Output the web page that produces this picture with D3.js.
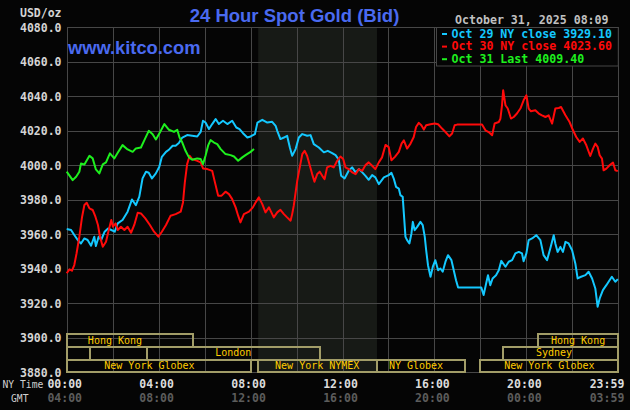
<!DOCTYPE html>
<html lang="en">
<head>
  <meta charset="UTF-8" />
  <title>24 Hour Spot Gold</title>
  <script src="https://d3js.org/d3.v7.min.js"></script>
  <style>
    body {
      margin: 0;
      padding: 0;
      background-color: #050505;
    }
    svg {
      display: block;
      background-color: #050505;
    }
    .mono {
      font-family: "DejaVu Sans Mono", monospace;
    }
    .grid-line {
      stroke: #474747;
      stroke-width: 1px;
      shape-rendering: crispEdges;
    }
    .session-box {
      fill: none;
      stroke: #a29d68;
      stroke-width: 2px;
      shape-rendering: crispEdges;
    }
    .session-label {
      fill: #ffcc00;
      font-size: 10px;
    }
    .price-line {
      fill: none;
      stroke-width: 2px;
      stroke-linejoin: round;
    }
  </style>
</head>
<body>
  <svg id="chart" width="630" height="410"></svg>

  <script>
    // prices: [hour of NY day, USD/oz]
    const oct29 = [[0.0,3963.1],[0.19,3962.5],[0.33,3959.6],[0.48,3956.7],[0.62,3954.7],[0.77,3957.6],[0.91,3956.7],[1.06,3953.4],[1.20,3958.6],[1.27,3953.2],[1.39,3958.6],[1.50,3956.7],[1.65,3961.5],[1.80,3963.4],[1.94,3962.5],[2.09,3961.5],[2.22,3966.3],[2.43,3968.3],[2.65,3973.1],[2.84,3980.2],[3.01,3976.9],[3.16,3981.8],[3.30,3992.4],[3.45,3996.3],[3.57,3995.7],[3.71,3992.4],[3.88,3995.3],[4.03,3999.2],[4.14,4004.9],[4.32,4007.8],[4.46,4009.2],[4.61,4011.3],[4.74,4011.3],[4.88,4012.9],[5.03,4016.1],[5.24,4017.5],[5.46,4017.1],[5.68,4016.7],[5.83,4019.4],[5.93,4025.8],[6.04,4024.8],[6.19,4021.0],[6.33,4023.9],[6.48,4026.8],[6.62,4023.9],[6.80,4025.8],[6.99,4023.9],[7.20,4025.8],[7.38,4021.9],[7.52,4021.0],[7.67,4018.6],[7.86,4016.1],[8.0,4016.7],[8.19,4018.1],[8.30,4024.8],[8.51,4026.4],[8.73,4024.8],[8.94,4025.2],[9.09,4022.9],[9.16,4020.0],[9.30,4015.2],[9.45,4016.1],[9.59,4017.1],[9.71,4010.3],[9.81,4005.5],[9.96,4009.4],[10.10,4016.1],[10.25,4018.1],[10.46,4017.1],[10.61,4017.5],[10.75,4012.3],[10.97,4010.3],[11.19,4007.5],[11.36,4008.4],[11.55,4007.1],[11.70,4005.9],[11.84,4003.2],[11.94,3993.9],[12.09,3992.4],[12.27,3996.8],[12.42,3998.8],[12.57,3995.9],[12.71,3997.8],[12.86,3995.9],[13.0,3993.9],[13.14,3991.6],[13.29,3994.3],[13.43,3993.0],[13.58,3989.1],[13.80,3993.0],[14.01,3994.3],[14.13,3995.6],[14.23,3992.3],[14.33,3987.5],[14.45,3986.5],[14.52,3982.7],[14.62,3981.7],[14.67,3972.0],[14.74,3958.5],[14.81,3956.6],[14.91,3954.7],[15.0,3960.5],[15.06,3967.2],[15.14,3962.4],[15.25,3964.3],[15.39,3967.2],[15.49,3965.3],[15.58,3958.5],[15.64,3950.8],[15.72,3942.1],[15.83,3935.4],[15.93,3941.2],[16.04,3945.0],[16.16,3939.2],[16.26,3940.2],[16.36,3938.3],[16.48,3944.1],[16.59,3947.9],[16.74,3945.0],[16.84,3939.2],[16.94,3933.4],[17.03,3929.1],[18.04,3929.1],[18.14,3924.8],[18.25,3931.5],[18.33,3936.3],[18.43,3930.5],[18.53,3934.4],[18.68,3936.3],[18.80,3939.2],[18.91,3944.6],[19.09,3941.2],[19.23,3944.1],[19.38,3945.0],[19.52,3948.9],[19.67,3949.8],[19.81,3948.9],[19.88,3944.4],[20.0,3948.9],[20.10,3956.6],[20.25,3957.6],[20.43,3959.5],[20.61,3956.6],[20.75,3947.9],[20.90,3945.0],[21.04,3951.8],[21.19,3959.5],[21.26,3954.7],[21.36,3949.8],[21.48,3952.7],[21.59,3949.8],[21.70,3955.6],[21.84,3954.7],[21.99,3950.8],[22.13,3943.1],[22.23,3934.4],[22.38,3935.4],[22.57,3936.3],[22.71,3938.3],[22.86,3934.4],[23.0,3928.6],[23.10,3918.0],[23.19,3922.8],[23.33,3927.6],[23.48,3930.5],[23.62,3933.4],[23.72,3935.4],[23.87,3932.5],[23.98,3934.0]];

    const oct30 = [[0.0,3937.4],[0.12,3939.7],[0.23,3938.9],[0.33,3942.2],[0.43,3949.0],[0.55,3958.6],[0.67,3970.2],[0.77,3977.0],[0.87,3978.3],[0.99,3975.0],[1.13,3974.1],[1.25,3970.2],[1.36,3965.4],[1.45,3958.6],[1.57,3952.8],[1.71,3955.7],[1.83,3962.5],[1.94,3968.3],[2.01,3964.4],[2.13,3966.3],[2.22,3962.5],[2.36,3964.4],[2.51,3962.5],[2.65,3964.4],[2.80,3960.9],[2.94,3965.4],[3.09,3972.5],[3.23,3972.1],[3.42,3969.2],[3.62,3965.4],[3.80,3961.5],[3.99,3958.6],[4.14,3961.5],[4.32,3965.4],[4.52,3970.8],[4.74,3971.7],[4.96,3973.1],[5.06,3978.5],[5.14,3990.1],[5.24,4000.7],[5.35,4005.5],[5.46,4003.6],[5.68,4002.6],[5.83,4001.7],[5.93,3998.2],[6.12,3997.8],[6.33,3996.8],[6.45,3990.1],[6.59,3982.4],[6.74,3982.4],[6.91,3984.7],[7.06,3983.3],[7.20,3980.4],[7.35,3975.6],[7.46,3970.8],[7.56,3966.9],[7.71,3971.7],[7.93,3973.1],[8.10,3975.6],[8.22,3978.5],[8.36,3981.4],[8.51,3977.5],[8.65,3972.7],[8.80,3975.6],[9.01,3969.8],[9.16,3972.7],[9.30,3974.2],[9.45,3971.7],[9.59,3969.8],[9.74,3967.9],[9.81,3971.7],[9.88,3976.6],[9.96,3984.3],[10.03,3991.0],[10.14,3998.8],[10.25,4006.5],[10.35,4008.4],[10.46,4005.5],[10.58,3999.7],[10.68,3994.9],[10.78,3990.5],[10.90,3994.9],[11.01,3996.3],[11.12,3993.9],[11.22,3992.0],[11.33,3998.8],[11.48,3999.7],[11.62,3998.8],[11.77,4002.6],[11.91,4005.1],[12.03,4003.6],[12.13,3998.8],[12.27,3997.8],[12.42,3995.9],[12.57,3994.9],[12.71,3997.8],[12.86,3996.8],[13.0,4000.1],[13.14,4001.7],[13.29,3999.7],[13.43,3997.8],[13.58,4001.7],[13.72,4004.6],[13.87,4011.8],[14.01,4010.5],[14.13,4002.9],[14.28,4004.9],[14.45,4007.8],[14.57,4012.6],[14.67,4014.5],[14.81,4009.7],[14.96,4012.6],[15.10,4016.4],[15.20,4022.2],[15.32,4024.6],[15.43,4023.2],[15.54,4020.7],[15.64,4023.2],[15.83,4023.8],[16.01,4024.2],[16.16,4023.8],[16.33,4021.3],[16.48,4019.3],[16.65,4016.8],[16.77,4018.4],[16.88,4023.2],[16.99,4023.6],[18.07,4023.6],[18.22,4020.3],[18.36,4019.3],[18.51,4017.4],[18.62,4024.2],[18.80,4025.1],[18.87,4027.0],[18.94,4034.8],[18.99,4043.5],[19.09,4034.8],[19.19,4032.9],[19.33,4027.1],[19.45,4028.0],[19.59,4030.0],[19.74,4032.9],[19.88,4037.7],[20.0,4040.6],[20.10,4032.9],[20.20,4031.3],[20.39,4031.9],[20.54,4030.0],[20.68,4029.0],[20.83,4028.0],[20.97,4029.0],[21.12,4024.2],[21.26,4032.9],[21.41,4033.2],[21.51,4033.8],[21.70,4029.0],[21.88,4025.1],[22.03,4020.3],[22.17,4016.4],[22.32,4013.6],[22.46,4015.5],[22.61,4011.6],[22.78,4005.4],[22.90,4009.7],[23.0,4012.6],[23.10,4010.7],[23.19,4005.8],[23.29,4003.9],[23.36,3997.1],[23.48,3998.1],[23.62,4000.0],[23.77,4001.6],[23.87,3997.1],[23.98,3996.6]];

    const oct31 = [[0.0,3996.3],[0.26,3991.4],[0.41,3993.4],[0.55,3996.3],[0.62,4001.0],[0.77,4000.5],[0.99,4005.5],[1.13,4004.0],[1.27,3997.6],[1.42,3995.3],[1.57,4000.5],[1.71,4001.7],[1.88,4006.9],[2.07,4004.0],[2.22,4007.3],[2.43,4011.7],[2.65,4009.2],[2.87,4007.8],[3.01,4009.8],[3.23,4010.3],[3.38,4014.6],[3.57,4020.0],[3.74,4018.0],[3.88,4015.0],[4.03,4018.5],[4.25,4023.9],[4.45,4020.6],[4.67,4019.4],[4.81,4020.6],[4.91,4016.1],[5.03,4013.2],[5.17,4008.4],[5.32,4004.6],[5.46,4003.2],[5.68,4004.0],[5.83,4003.6],[5.93,4000.7],[6.04,4005.5],[6.16,4011.7],[6.26,4014.6],[6.41,4013.2],[6.55,4012.3],[6.70,4009.4],[6.91,4006.5],[7.13,4005.9],[7.28,4005.1],[7.46,4002.6],[7.64,4004.6],[7.78,4005.9],[8.0,4007.8],[8.15,4009.4]];

    const seriesNames = ["Oct 29 NY close 3929.10", "Oct 30 NY close 4023.60", "Oct 31 Last 4009.40"];
    const seriesColors = ["#14c8ff", "#ff0a0a", "#1ef01e"];

    const priceTicks = [3880, 3900, 3920, 3940, 3960, 3980, 4000, 4020, 4040, 4060, 4080];
    const hourTicks = [0, 2, 4, 6, 8, 10, 12, 14, 16, 18, 20, 22, 24];
    const labelHours = [0, 4, 8, 12, 16, 20, 24];
    const nyLabels = ["00:00", "04:00", "08:00", "12:00", "16:00", "20:00", "23:59"];
    const gmtLabels = ["04:00", "08:00", "12:00", "16:00", "20:00", "00:00", "03:59"];

    // COMEX floor hours (shaded)
    const comexHours = [8.333, 13.5];

    // trading sessions: row, start, end, label, label hour
    const sessions = [
      { row: 0, start: 0, end: 5.5, name: "Hong Kong", at: 2.1 },
      { row: 0, start: 20.5, end: 24, name: "Hong Kong", at: 22.25 },
      { row: 1, start: 0, end: 1, name: "", at: 0.5 },
      { row: 1, start: 1, end: 3.5, name: "", at: 2.25 },
      { row: 1, start: 3.5, end: 11, name: "London", at: 7.25 },
      { row: 1, start: 19, end: 24, name: "Sydney", at: 21.2 },
      { row: 2, start: 0, end: 8, name: "New York Globex", at: 3.6 },
      { row: 2, start: 8.333, end: 13.5, name: "New York NYMEX", at: 10.9 },
      { row: 2, start: 13.5, end: 17.33, name: "NY Globex", at: 15.2 },
      { row: 2, start: 18, end: 24, name: "New York Globex", at: 21.0 }
    ];

    const svg = d3.select("#chart");

    const x = d3.scaleLinear().domain([0, 24]).range([66.7, 618.3]);
    const y = d3.scaleLinear().domain([3880, 4080]).range([372.3, 27.3]);
    const rowH = 12.8;

    // COMEX shading
    svg.append("rect")
      .attr("x", x(comexHours[0]))
      .attr("y", y(4080))
      .attr("width", x(comexHours[1]) - x(comexHours[0]))
      .attr("height", y(3880) - y(4080))
      .attr("fill", "#171a16");

    // grid
    svg.selectAll(".h-grid")
      .data(priceTicks)
      .join("line")
      .attr("class", "grid-line")
      .attr("x1", x(0))
      .attr("x2", x(24))
      .attr("y1", d => Math.round(y(d)) + 0.5)
      .attr("y2", d => Math.round(y(d)) + 0.5);

    svg.selectAll(".v-grid")
      .data(hourTicks)
      .join("line")
      .attr("class", "grid-line")
      .attr("x1", d => Math.round(x(d)) + 0.5)
      .attr("x2", d => Math.round(x(d)) + 0.5)
      .attr("y1", y(4080))
      .attr("y2", y(3880));

    // sessions
    const sessionTop = r => y(3880) - (3 - r) * rowH;

    svg.selectAll(".session-box")
      .data(sessions)
      .join("rect")
      .attr("class", "session-box")
      .attr("x", d => x(d.start))
      .attr("y", d => sessionTop(d.row))
      .attr("width", d => x(d.end) - x(d.start))
      .attr("height", rowH);

    svg.selectAll(".session-label")
      .data(sessions.filter(d => d.name))
      .join("text")
      .attr("class", "session-label mono")
      .attr("x", d => x(d.at))
      .attr("y", d => sessionTop(d.row) + 9.6)
      .attr("text-anchor", "middle")
      .text(d => d.name);

    // price lines
    const line = d3.line()
      .x(d => x(d[0]))
      .y(d => y(d[1]));

    svg.selectAll(".price-line")
      .data([oct29, oct30, oct31])
      .join("path")
      .attr("class", "price-line")
      .attr("stroke", (d, i) => seriesColors[i])
      .attr("d", line);

    // legend box
    const legendX = 436;
    svg.append("rect")
      .attr("x", legendX + 0.5)
      .attr("y", Math.round(y(4080)) + 0.5)
      .attr("width", x(24) - legendX - 0.5)
      .attr("height", 38.5)
      .attr("fill", "#050505")
      .attr("stroke", "#474747");

    svg.selectAll(".legend-dash")
      .data(seriesNames)
      .join("rect")
      .attr("x", legendX + 6)
      .attr("y", (d, i) => 33 + i * 12.6)
      .attr("width", 5)
      .attr("height", 2)
      .attr("fill", (d, i) => seriesColors[i]);

    svg.selectAll(".legend-text")
      .data(seriesNames)
      .join("text")
      .attr("class", "mono")
      .attr("x", legendX + 15.5)
      .attr("y", (d, i) => 37.8 + i * 12.6)
      .attr("fill", (d, i) => seriesColors[i])
      .style("font-size", "11.6px")
      .style("font-weight", "bold")
      .text(d => d);

    // y labels
    svg.selectAll(".y-label")
      .data(priceTicks)
      .join("text")
      .attr("class", "mono")
      .attr("x", 61.5)
      .attr("y", d => y(d) + 4.3)
      .attr("text-anchor", "end")
      .attr("fill", "#d4d4d4")
      .style("font-size", "11.5px")
      .style("font-weight", "bold")
      .text(d => d3.format(".1f")(d));

    svg.append("text")
      .attr("class", "mono")
      .attr("x", 61.5)
      .attr("y", 16.5)
      .attr("text-anchor", "end")
      .attr("fill", "#d4d4d4")
      .style("font-size", "11.5px")
      .style("font-weight", "bold")
      .text("USD/oz");

    // time labels
    const labelX = h => Math.min(x(h) - 2, 607);

    svg.selectAll(".ny-label")
      .data(nyLabels)
      .join("text")
      .attr("class", "mono")
      .attr("x", (d, i) => labelX(labelHours[i]))
      .attr("y", 387.5)
      .attr("text-anchor", "middle")
      .attr("fill", "#dcdcdc")
      .style("font-size", "11.5px")
      .style("font-weight", "bold")
      .text(d => d);

    svg.selectAll(".gmt-label")
      .data(gmtLabels)
      .join("text")
      .attr("class", "mono")
      .attr("x", (d, i) => labelX(labelHours[i]))
      .attr("y", 401.5)
      .attr("text-anchor", "middle")
      .attr("fill", "#5c5c5c")
      .style("font-size", "11.5px")
      .style("font-weight", "bold")
      .text(d => d);

    svg.append("text")
      .attr("class", "mono")
      .attr("x", 2.5)
      .attr("y", 387.5)
      .attr("fill", "#d0d0d0")
      .style("font-size", "9.7px")
      .text("NY Time");

    svg.append("text")
      .attr("class", "mono")
      .attr("x", 11)
      .attr("y", 401.5)
      .attr("fill", "#d0d0d0")
      .style("font-size", "9.7px")
      .text("GMT");

    // titles
    svg.append("text")
      .attr("x", 294.5)
      .attr("y", 22)
      .attr("text-anchor", "middle")
      .attr("fill", "#4a6af0")
      .style("font-family", "'Liberation Sans', Arial, sans-serif")
      .style("font-size", "18.5px")
      .style("font-weight", "bold")
      .text("24 Hour Spot Gold (Bid)");

    svg.append("text")
      .attr("x", 68)
      .attr("y", 54)
      .attr("fill", "#4a6af0")
      .style("font-family", "'Liberation Sans', Arial, sans-serif")
      .style("font-size", "18.3px")
      .style("font-weight", "bold")
      .text("www.kitco.com");

    svg.append("text")
      .attr("class", "mono")
      .attr("x", 455)
      .attr("y", 23.5)
      .attr("fill", "#c0c0c0")
      .style("font-size", "11.6px")
      .style("font-weight", "bold")
      .text("October 31, 2025 08:09");
  </script>
</body>
</html>
